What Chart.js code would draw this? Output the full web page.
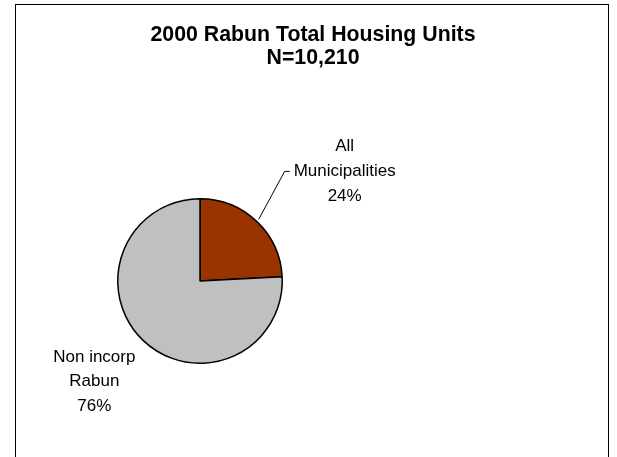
<!DOCTYPE html>
<html>
<head>
<meta charset="utf-8">
<script src="https://cdn.jsdelivr.net/npm/chart.js@4.4.1/dist/chart.umd.min.js"></script>
<style>
  html, body { margin: 0; padding: 0; background: #fff; }
  #wrap { width: 617px; height: 457px; }
</style>
</head>
<body>
<div id="wrap"><canvas id="housingPie"></canvas></div>
<script>
  // 2000 Rabun total housing units (N = 10,210)
  const titleLines = ['2000 Rabun Total Housing Units', 'N=10,210'];
  const categories = [['All', 'Municipalities'], ['Non incorp', 'Rabun']];
  const housingUnits = [2470, 7740];

  // where each label block sits, relative to the slice's outer mid point
  const labelOffsets = [[88, -50], [-49, 41]];
  const leaderLines = [true, false];

  const LABEL_FONT = '17px "Liberation Sans", Arial, sans-serif';
  const TITLE_FONT = 'bold 21.3px "Liberation Sans", Arial, sans-serif';

  // Frame, title and slice labels drawn on top of the pie
  const excelLook = {
    id: 'excelLook',
    afterDraw(chart) {
      const ctx = chart.ctx;
      ctx.save();

      // chart frame (bottom edge is off the page)
      ctx.strokeStyle = '#000';
      ctx.lineWidth = 1;
      ctx.strokeRect(15.5, 4.5, 593, 500);

      // title
      ctx.fillStyle = '#000';
      ctx.font = TITLE_FONT;
      ctx.textAlign = 'center';
      ctx.textBaseline = 'middle';
      titleLines.forEach((line, i) => ctx.fillText(line, 313, 35 + i * 23.5));

      // labels
      const total = housingUnits.reduce((a, b) => a + b, 0);
      const arcs = chart.getDatasetMeta(0).data;
      ctx.font = LABEL_FONT;
      arcs.forEach((arc, i) => {
        const mid = (arc.startAngle + arc.endAngle) / 2;
        const ex = arc.x + Math.cos(mid) * arc.outerRadius;
        const ey = arc.y + Math.sin(mid) * arc.outerRadius;
        const lines = categories[i].concat([Math.round(housingUnits[i] / total * 100) + '%']);
        const cx = ex + labelOffsets[i][0];
        const cy = ey + labelOffsets[i][1];
        const lineH = 24.8;
        const top = cy - (lines.length - 1) * lineH / 2;
        lines.forEach((t, j) => ctx.fillText(t, cx, top + j * lineH));

        if (leaderLines[i]) {
          const midLine = Math.floor(lines.length / 2);
          const w = ctx.measureText(lines[midLine]).width;
          const endX = cx - w / 2 - 4;
          const endY = top + midLine * lineH;
          ctx.beginPath();
          ctx.moveTo(ex + 2, ey - 2);
          ctx.lineTo(endX - 5, endY);
          ctx.lineTo(endX, endY);
          ctx.lineWidth = 1;
          ctx.strokeStyle = '#000';
          ctx.stroke();
        }
      });
      ctx.restore();
    }
  };

  const ctxPie = document.getElementById('housingPie').getContext('2d');
  const housingPie = new Chart(ctxPie, {
    type: 'pie',
    data: {
      labels: categories.map(c => c.join(' ')),
      datasets: [{
        data: housingUnits,
        backgroundColor: ['#993300', '#C0C0C0'],
        borderColor: '#000',
        borderWidth: 1.5
      }]
    },
    options: {
      responsive: true,
      maintainAspectRatio: false,
      animation: false,
      layout: {
        padding: { left: 117, right: 334, top: 198, bottom: 93 }
      },
      plugins: {
        legend: { display: false },
        title: { display: false },
        tooltip: { enabled: false }
      }
    },
    plugins: [excelLook]
  });
</script>
</body>
</html>
